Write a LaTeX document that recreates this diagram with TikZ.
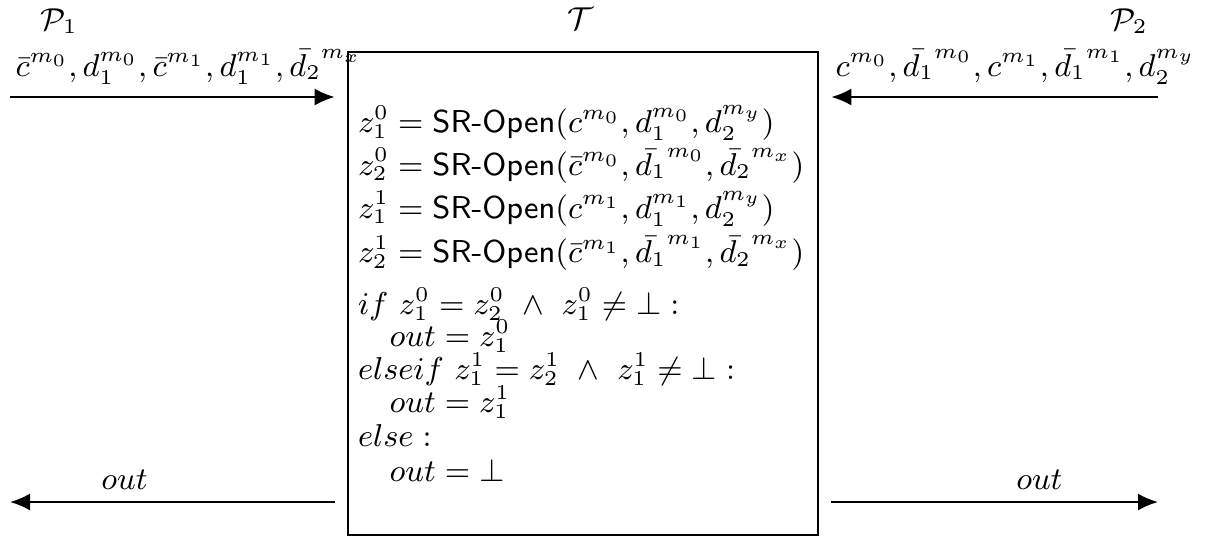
\documentclass[tikz,border=0pt]{standalone}
\usepackage{amsmath, amssymb}
\usepackage{xcolor}
\usepackage{tikz}
\usetikzlibrary{positioning, arrows.meta}

\newcommand{\sropen}{\textsf{SR-Open}}

\begin{document}
\begin{tikzpicture}[auto, line width=0.6pt, font=\fontsize{9}{10.8}\selectfont,
       msg/.style={-{Latex[length=2mm,width=1.7mm]}},
       tobox/.style={shorten >=3.5pt},
       frombox/.style={shorten <=3.5pt},
       party/.style={inner sep=0pt},
       tbox/.style={draw, minimum width=4.7cm, minimum height=4.83cm,
                    text width=4.5cm, inner xsep=0.1cm, align=left}]
       \useasboundingbox (0,0) rectangle (12.12,-5.39);

       \node[tbox] (T) at (5.83,-2.935) {%
         $z_1^0 = \sropen(c^{m_0}, d_1^{m_0}, d_2^{m_y})$\\[1.4pt]
         $z_2^0 = \sropen(\bar{c}^{m_0}, \bar{d_1}^{m_0}, \bar{d_2}^{m_x})$\\[1.4pt]
         $z_1^1 = \sropen(c^{m_1}, d_1^{m_1}, d_2^{m_y})$\\[1.8pt]
         $z_2^1 = \sropen(\bar{c}^{m_1}, \bar{d_1}^{m_1}, \bar{d_2}^{m_x})$\\[4pt]
         $if\ z_1^0 = z_2^0\ \wedge\ z_1^0 \neq \bot :$\\[-1.6pt]
         $\quad out = z_1^0$\\[-1.4pt]
         $elseif\ z_1^1 = z_2^1\ \wedge\ z_1^1 \neq \bot :$\\[-1.4pt]
         $\quad out = z_1^1$\\[-1.2pt]
         $else :$\\[-0.9pt]
         $\quad out = \bot$};

       \node[party] (P1) at (0.59,-0.21) {$\mathcal{P}_1$};
       \node[party] (Tname) at (5.80,-0.19) {$\mathcal{T}$};
       \node[party] (P2) at (11.29,-0.21) {$\mathcal{P}_2$};

       \coordinate (p1in) at (0.10,-0.97);
       \coordinate (p2in) at (11.58,-0.97);
       \coordinate (p1out) at (0.10,-5.02);
       \coordinate (p2out) at (11.58,-5.02);

       \draw[msg, tobox] (p1in) -- node[pos=0.53]
         {$\bar{c}^{m_0}, d_1^{m_0}, \bar{c}^{m_1}, d_1^{m_1}, \bar{d_2}^{m_x}$} (T.west |- p1in);
       \draw[msg, tobox] (p2in) -- node[pos=0.42, swap]
         {$c^{m_0}, \bar{d_1}^{m_0}, c^{m_1}, \bar{d_1}^{m_1}, d_2^{m_y}$} (T.east |- p2in);
       \draw[msg, frombox] (T.west |- p1out) -- node[pos=0.66, swap] {$out$} (p1out);
       \draw[msg, frombox] (T.east |- p2out) -- node[pos=0.65] {$out$} (p2out);
\end{tikzpicture}
\end{document}
